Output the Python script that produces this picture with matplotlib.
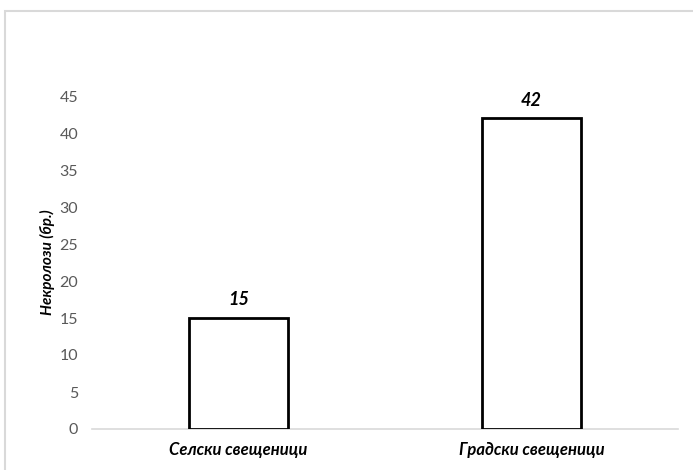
import matplotlib.pyplot as plt
from matplotlib.patches import Rectangle

categories = ['Селски свещеници', 'Градски свещеници']
values = [15, 42]
yticks = [0, 5, 10, 15, 20, 25, 30, 35, 40, 45]

plt.rcParams['font.family'] = ['Lato', 'DejaVu Sans']

fig = plt.figure(figsize=(6.93, 4.70), dpi=100)
W, H = 693, 470

# chart area border (light gray, runs off right and bottom)
fig.patches.append(Rectangle((5 / W, -0.05), 1.0, 1 - 11 / H + 0.05, transform=fig.transFigure,
                             fill=False, edgecolor='#d9d9d9', linewidth=1.5))

ax = fig.add_axes([92 / W, 1 - 429 / H, (678 - 92) / W, (429 - 96) / H])
x = list(range(len(categories)))
bars = ax.bar(x, values, width=0.34, color='white', edgecolor='black', linewidth=2, zorder=3)

ax.set_xlim(-0.5, 1.5)
ax.set_ylim(0, 45)
ax.set_yticks(yticks)
ax.set_xticks(x)
ax.set_xticklabels(categories, fontsize=12, fontweight='bold', fontstyle='italic', color='black')
ax.tick_params(axis='y', length=0, pad=10, labelsize=11.5, labelcolor='#595959')
ax.tick_params(axis='x', length=0, pad=9)

for s in ['top', 'right', 'left']:
    ax.spines[s].set_visible(False)
ax.spines['bottom'].set_color('#d9d9d9')
ax.spines['bottom'].set_linewidth(1.2)

for b, v in zip(bars, values):
    ax.text(b.get_x() + b.get_width() / 2, v + 1.3, str(v), ha='center', va='bottom',
            fontsize=13, fontweight='bold', fontstyle='italic', clip_on=False)

ax.set_ylabel('Некролози (бр.)', fontsize=11, fontweight='bold', fontstyle='italic', labelpad=3)

fig.savefig('out.png', dpi=100)
